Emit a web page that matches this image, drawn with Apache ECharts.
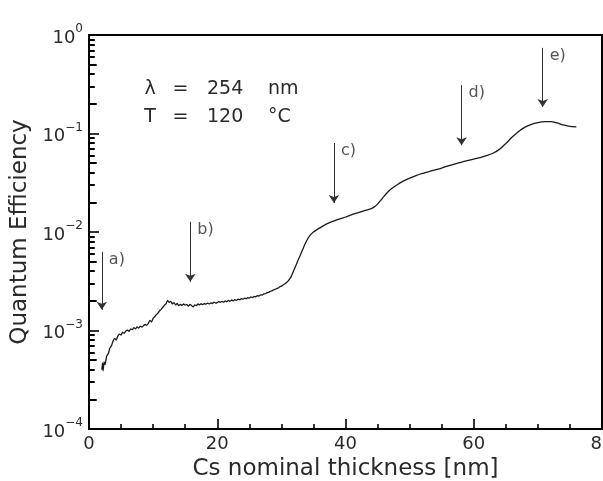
<!DOCTYPE html>
<html><head><meta charset="utf-8">
<script src="https://cdn.jsdelivr.net/npm/echarts@6/dist/echarts.min.js"></script>
<style>html,body{margin:0;padding:0;background:#fff}#c{width:603px;height:481px}</style>
</head><body><div id="c"></div>
<script>
// Cs nominal thickness [nm]
const thickness = [
  2.0, 2.1, 2.2, 2.35, 2.5, 2.75, 3.0, 3.25, 3.5, 3.75, 4.0, 4.25, 4.5, 4.75, 5.0, 5.25, 5.5, 5.75,
  6.0, 6.25, 6.5, 6.75, 7.0, 7.25, 7.5, 7.75, 8.0, 8.25, 8.5, 8.75, 9.0, 9.25, 9.5, 9.75,
  10.0, 10.25, 10.5, 10.75, 11.0, 11.25, 11.5, 11.75, 12.0, 12.25, 12.5, 12.75,
  13.0, 13.25, 13.5, 13.75, 14.0, 14.25, 14.5, 14.75, 15.0, 15.25, 15.5, 15.75, 16.0, 16.25, 16.5, 16.75,
  17.0, 17.25, 17.5, 17.75, 18.0, 18.25, 18.5, 18.75, 19.0, 19.25, 19.5, 19.75, 20.0, 20.25, 20.5, 20.75,
  21.0, 21.25, 21.5, 21.75, 22.0, 22.25, 22.5, 22.75, 23.0, 23.25, 23.5, 23.75, 24.0, 24.25, 24.5, 24.75,
  25.0, 25.25, 25.5, 25.75, 26.0, 26.25, 26.5, 26.75, 27.0, 27.25, 27.5, 27.75, 28.0, 28.25, 28.5, 28.75,
  29.0, 29.25, 29.5, 29.75, 30.0, 30.5, 31.0, 31.5, 32.0, 32.5, 33.0, 33.5, 34.0, 34.5, 35.0, 35.5,
  36, 37, 38, 39, 40, 41, 42, 43, 44, 44.5, 45, 45.5, 46, 46.5, 47, 48, 49, 50, 51, 52, 53, 54, 55,
  56, 57, 58, 59, 60, 61, 62, 63, 64, 65, 66, 67, 68, 69, 70, 71, 72, 73, 74, 75, 76
];
// Quantum efficiency
const efficiency = [
  4.0e-4, 4.7e-4, 3.9e-4, 4.8e-4, 4.5e-4, 5.5e-4, 5.8e-4, 6.6e-4, 7.0e-4, 7.8e-4, 8.3e-4, 8.0e-4, 8.8e-4, 9.2e-4, 9.0e-4, 9.6e-4, 9.4e-4, 9.9e-4,
  1.01e-3, 0.98e-3, 1.04e-3, 1.02e-3, 1.07e-3, 1.04e-3, 1.09e-3, 1.06e-3, 1.11e-3, 1.08e-3, 1.12e-3, 1.15e-3, 1.13e-3, 1.18e-3, 1.27e-3, 1.22e-3,
  1.33e-3, 1.38e-3, 1.45e-3, 1.50e-3, 1.58e-3, 1.64e-3, 1.72e-3, 1.80e-3, 1.86e-3, 2.02e-3, 1.93e-3, 1.98e-3,
  1.86e-3, 1.92e-3, 1.82e-3, 1.88e-3, 1.79e-3, 1.84e-3, 1.80e-3, 1.86e-3, 1.81e-3, 1.84e-3, 1.77e-3, 1.84e-3, 1.79e-3, 1.74e-3, 1.82e-3, 1.79e-3,
  1.86e-3, 1.82e-3, 1.87e-3, 1.83e-3, 1.88e-3, 1.85e-3, 1.90e-3, 1.86e-3, 1.91e-3, 1.88e-3, 1.94e-3, 1.90e-3, 1.92e-3, 1.97e-3, 1.93e-3, 1.98e-3,
  1.94e-3, 2.00e-3, 1.96e-3, 2.02e-3, 1.98e-3, 2.04e-3, 2.00e-3, 2.06e-3, 2.02e-3, 2.08e-3, 2.05e-3, 2.11e-3, 2.08e-3, 2.13e-3, 2.10e-3, 2.16e-3,
  2.13e-3, 2.19e-3, 2.16e-3, 2.22e-3, 2.20e-3, 2.26e-3, 2.24e-3, 2.30e-3, 2.29e-3, 2.35e-3, 2.36e-3, 2.42e-3, 2.43e-3, 2.50e-3, 2.52e-3, 2.58e-3,
  2.61e-3, 2.66e-3, 2.70e-3, 2.78e-3, 2.82e-3, 2.96e-3, 3.15e-3, 3.50e-3, 4.15e-3, 5.00e-3, 5.90e-3, 7.10e-3, 8.30e-3, 9.30e-3, 1.00e-2, 1.05e-2,
  1.10e-2, 1.20e-2, 1.28e-2, 1.35e-2, 1.42e-2, 1.50e-2, 1.57e-2, 1.65e-2, 1.73e-2, 1.80e-2, 1.92e-2, 2.10e-2, 2.30e-2, 2.50e-2, 2.70e-2, 3.00e-2, 3.28e-2, 3.52e-2, 3.74e-2, 3.93e-2, 4.10e-2, 4.28e-2, 4.46e-2,
  4.70e-2, 4.90e-2, 5.10e-2, 5.30e-2, 5.50e-2, 5.70e-2, 5.95e-2, 6.30e-2, 6.90e-2, 7.90e-2, 9.20e-2, 0.105, 0.116, 0.124, 0.129, 0.132, 0.132, 0.128, 0.122, 0.118, 0.117
];
// annotation arrows
const arrowX = [2.0, 15.8, 38.2, 58.1, 70.75];
const arrowTop = [6.3e-3, 1.27e-2, 8.0e-2, 0.31, 0.74];
const arrowBottom = [1.62e-3, 3.13e-3, 1.97e-2, 7.6e-2, 0.186];
const arrowLabels = ['a)', 'b)', 'c)', 'd)', 'e)'];
// axes
const xMin = 0, xMax = 80, xStep = 20;
const yExponents = [-4, -3, -2, -1, 0];
const midMantissas = [2, 5];
const minorMantissas = [3, 4, 6, 7, 8, 9];
// inset text
const insetLines = [['λ', '=', '254', 'nm'], ['T', '=', '120', '°C']];

const FONT = 'DejaVu Sans';
const TXT = '#2a2a2a';
// minor log ticks: start just inside the axis, lengths along the x scale (nm)
const TICK_START = 0.05, MID_LEN = 1.15, MINOR_LEN = 0.85;
const tickLines = [];
yExponents.slice(0, -1).forEach(e => {
  midMantissas.forEach(m => {
    const v = m * Math.pow(10, e);
    tickLines.push([{coord: [TICK_START, v]}, {coord: [TICK_START + MID_LEN, v]}]);
  });
  minorMantissas.forEach(m => {
    const v = m * Math.pow(10, e);
    tickLines.push([{coord: [TICK_START, v]}, {coord: [TICK_START + MINOR_LEN, v]}]);
  });
});
const chart = echarts.init(document.getElementById('c'), null, {renderer: 'canvas'});
const colX = [150, 180.5, 207, 268];
const rowY = [89.5, 117];
const graphics = [];
insetLines.forEach((row, r) => row.forEach((t, c) => {
  graphics.push({
    type: 'text', x: colX[c], y: rowY[r], silent: true,
    style: {text: t, font: '19px "' + FONT + '"', fill: TXT,
      align: c < 2 ? 'center' : 'left', verticalAlign: 'middle'}
  });
}));

chart.setOption({
  animation: false,
  backgroundColor: '#fff',
  grid: {left: 89, right: 1, top: 35, bottom: 52, containLabel: false, outerBoundsMode: 'none',
    show: true, borderColor: '#000', borderWidth: 2},
  xAxis: {
    type: 'value', min: xMin, max: xMax, interval: xStep,
    axisLine: {show: true, onZero: false, lineStyle: {color: '#000', width: 2}},
    axisTick: {show: true, inside: true, length: 10, lineStyle: {color: '#000', width: 1.6}},
    minorTick: {show: true, splitNumber: 4, length: 5, lineStyle: {color: '#000', width: 1.6}},
    splitLine: {show: false},
    axisLabel: {fontFamily: FONT, fontSize: 18, color: TXT, margin: 6},
    name: 'Cs nominal thickness [nm]', nameLocation: 'middle', nameGap: 26,
    nameTextStyle: {fontFamily: FONT, fontSize: 23, color: TXT}
  },
  yAxis: {
    type: 'log', logBase: 10, min: Math.pow(10, yExponents[0]), max: Math.pow(10, yExponents[yExponents.length - 1]),
    axisLine: {show: true, onZero: false, lineStyle: {color: '#000', width: 2}},
    axisTick: {show: true, inside: true, length: 10, lineStyle: {color: '#000', width: 1.6}},
    splitLine: {show: false},
    axisLabel: {
      margin: 6,
      formatter: (v) => {
        const e = Math.round(Math.log10(v));
        return '{b|10}{s|' + (e < 0 ? '\u2212' + (-e) : e) + '}';
      },
      rich: {
        b: {fontFamily: FONT, fontSize: 18, color: TXT, lineHeight: 24, verticalAlign: 'bottom'},
        s: {fontFamily: FONT, fontSize: 12, color: TXT, lineHeight: 12, verticalAlign: 'top'}
      }
    },
    name: 'Quantum Efficiency', nameLocation: 'middle', nameGap: 55,
    nameTextStyle: {fontFamily: FONT, fontSize: 23, color: TXT}
  },
  graphic: graphics,
  series: [
    {
      type: 'line', xAxisIndex: 0, yAxisIndex: 0,
      data: thickness.map((t, i) => [t, efficiency[i]]),
      showSymbol: false, symbol: 'none', smooth: 0.15,
      lineStyle: {color: '#1a1a1a', width: 1.3},
      markLine: {
        silent: true, symbol: ['none', 'arrow'], symbolSize: 8, precision: 6,
        lineStyle: {color: '#333', width: 1, type: 'solid'},
        label: {show: false}, emphasis: {disabled: true},
        data: arrowX.map((x, i) => [{coord: [x, arrowTop[i]]}, {coord: [x, arrowBottom[i]]}])
      }
    },
    {
      type: 'line', xAxisIndex: 0, yAxisIndex: 0, silent: true, clip: false,
      data: [], showSymbol: false, lineStyle: {width: 0},
      markLine: {
        silent: true, symbol: ['none', 'none'], precision: 8,
        lineStyle: {color: '#000', width: 2, type: 'solid'},
        label: {show: false}, emphasis: {disabled: true},
        data: tickLines
      }
    },
    {
      type: 'scatter', xAxisIndex: 0, yAxisIndex: 0, symbolSize: 0, silent: true,
      data: arrowX.map((x, i) => ({value: [x, arrowTop[i]], name: arrowLabels[i]})),
      label: {show: true, position: 'right', distance: 7, offset: [0, 8],
        formatter: (p) => p.name, fontFamily: FONT, fontSize: 16, color: TXT}
    }
  ]
});
</script>
</body></html>
